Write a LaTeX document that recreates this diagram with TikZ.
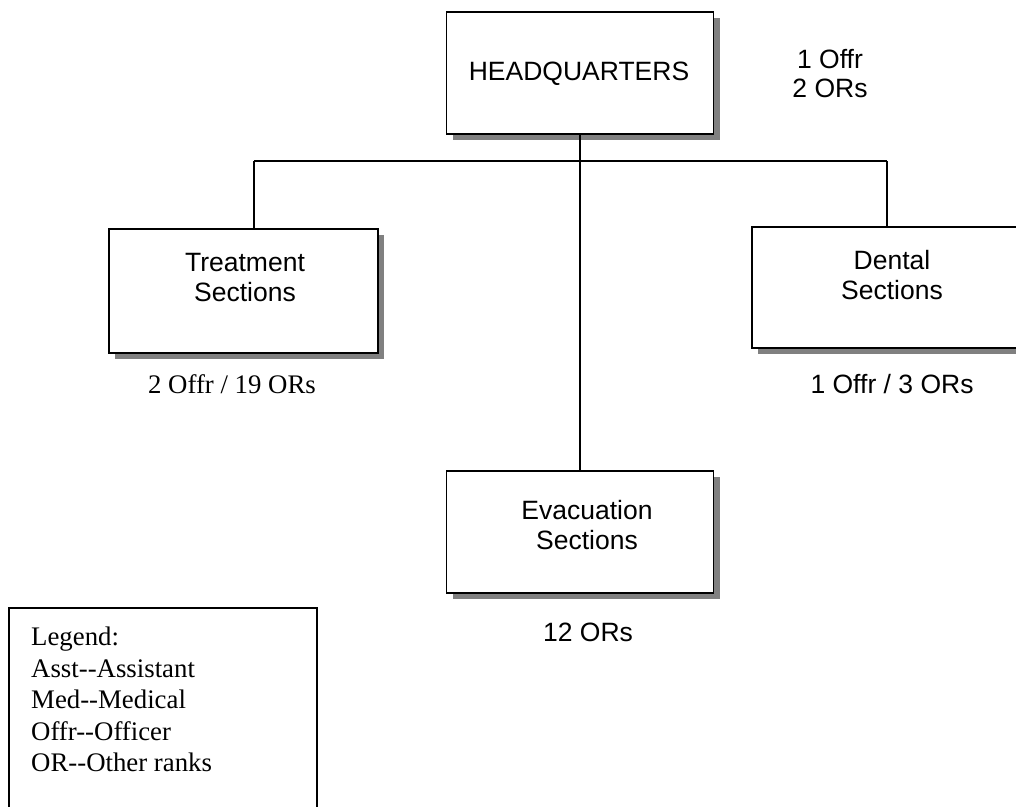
\documentclass[tikz,border=0pt]{standalone}
\usepackage{fontspec}
\setmainfont{Liberation Serif}
\newfontfamily\arialfont{Liberation Sans}
\usetikzlibrary{shadows}
\definecolor{shade}{HTML}{808080}
\tikzset{
  unit/.style={draw=black, line width=1.2pt, fill=white, rectangle, inner sep=0pt,
    general shadow={shadow xshift=6pt, shadow yshift=-6pt, fill=shade}},
  boxtext/.style={font=\arialfont\fontsize{26.5}{30}\selectfont, align=center, inner sep=0pt},
  strength/.style={font=\arialfont\fontsize{26.5}{30}\selectfont, align=center, inner sep=0pt, anchor=base},
  strengthtm/.style={font=\fontsize{26.8}{30}\selectfont, inner sep=0pt, anchor=base},
  link/.style={draw=black, line width=1.2pt}
}
\begin{document}
\begin{tikzpicture}[x=1pt, y=-1pt]
\useasboundingbox (0,0) rectangle (1016,806);
\clip (0,0) rectangle (1016,806);
\fill[white] (0,0) rectangle (1016,806);

% organisational units
\node[unit, minimum width=267pt, minimum height=122pt] (hq) at (580,73) {};
\node[unit, minimum width=269pt, minimum height=124pt] (tr) at (243.5,291) {};
\node[unit, minimum width=280pt, minimum height=121pt] (de) at (892,287.5) {};
\node[unit, minimum width=267pt, minimum height=122pt] (ev) at (580,532) {};

% unit names
\node[boxtext, anchor=base] (hqt) at (579,80) {HEADQUARTERS};
\node[boxtext] (trt) at (245,277.5) {Treatment\\Sections};
\node[boxtext] (det) at (892,275) {Dental\\Sections};
\node[boxtext] (evt) at (587,525) {Evacuation\\Sections};

% strengths
\node[strength] (hqs1) at (830,68) {1 Offr};
\node[strength] (hqs2) at (830,97) {2 ORs};
\node[strengthtm] (trs) at (232,393) {2 Offr / 19 ORs};
\node[strength] (des) at (892,393) {1 Offr / 3 ORs};
\node[strength] (evs) at (588,641) {12 ORs};

% connectors
\coordinate (busL) at (254,161);
\coordinate (busR) at (887,161);
\draw[link] (busL) -- (busR);
\draw[link] (hq.south) -- (ev.north);
\draw[link] (busL) -- (busL |- tr.north);
\draw[link] (busR) -- (busR |- de.north);

% legend
\draw[link] (9,830) -- (9,608) -- (317,608) -- (317,830);
\node[font=\fontsize{26.8}{31.5}\selectfont, align=left, inner sep=0pt, anchor=north west] (legend) at (31,627)
  {Legend:\\Asst-{}-Assistant\\Med-{}-Medical\\Offr-{}-Officer\\OR-{}-Other ranks};
\end{tikzpicture}
\end{document}
